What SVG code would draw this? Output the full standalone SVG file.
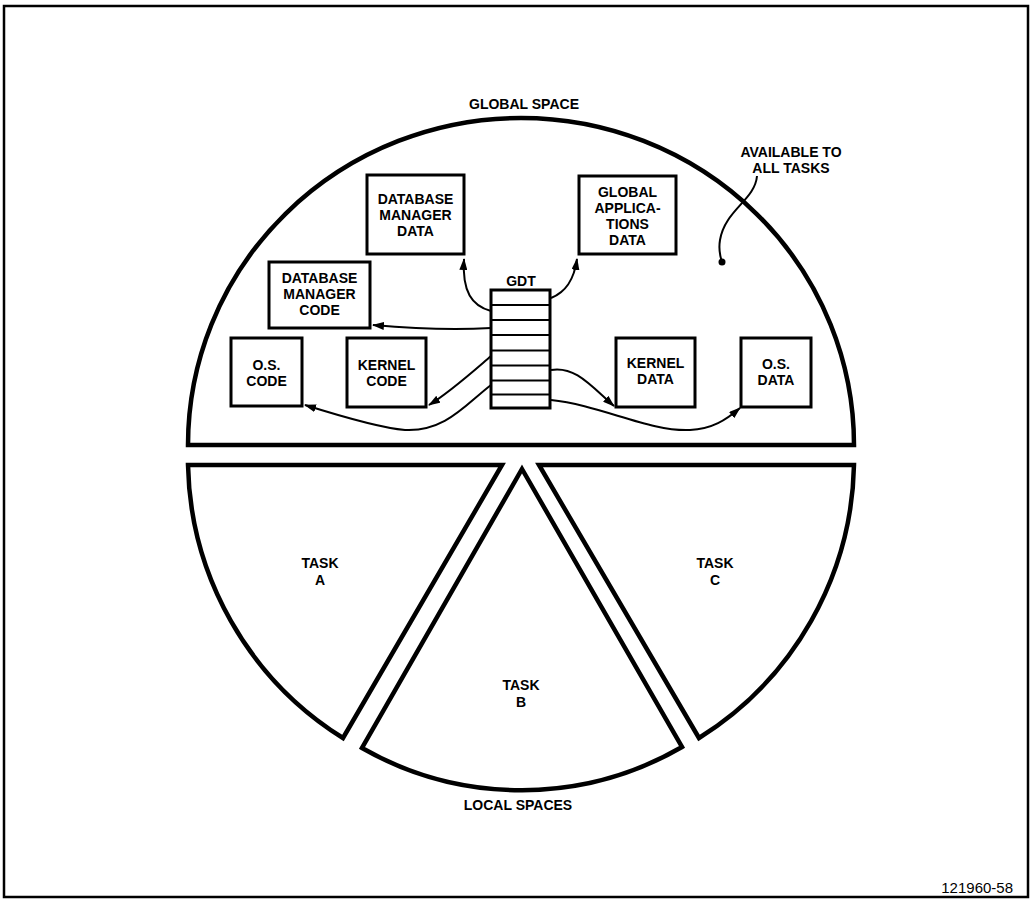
<svg xmlns="http://www.w3.org/2000/svg" width="1033" height="901" viewBox="0 0 1033 901">
<defs>
<style>
.t{font-family:"Liberation Sans",Arial,sans-serif;font-weight:bold;font-size:14px;fill:#000;text-anchor:middle}
.n{font-family:"Liberation Sans",Arial,sans-serif;font-size:15px;fill:#000;text-anchor:end}
.big{fill:#fff;stroke:#000;stroke-width:4.5;stroke-linejoin:miter}
.box{fill:#fff;stroke:#000;stroke-width:3}
.row{stroke:#000;stroke-width:2}
.c{fill:none;stroke:#000;stroke-width:2}
</style>
<marker id="ah" viewBox="0 0 12 8" refX="11" refY="4" markerWidth="12" markerHeight="8" markerUnits="userSpaceOnUse" orient="auto">
<path d="M0,0 L12,4 L0,8 Z" fill="#000"/>
</marker>
</defs>
<rect x="0" y="0" width="1033" height="901" fill="#fff"/>
<rect x="4" y="6" width="1024" height="891" fill="none" stroke="#000" stroke-width="2.5"/>

<g id="global-space">
<path class="big" d="M188,445 A333,327 0 0 1 854,445 Z"/>
<text class="t" x="524" y="109">GLOBAL SPACE</text>
</g>

<g id="task-a">
<path class="big" d="M188,465 L502,465 L343,738 A330,330 0 0 1 188,465 Z"/>
<text class="t" x="320" y="568">TASK</text>
<text class="t" x="320" y="585">A</text>
</g>
<g id="task-b">
<path class="big" d="M522,469 L682,747 A321,321 0 0 1 362,748 Z"/>
<text class="t" x="521" y="690">TASK</text>
<text class="t" x="521" y="707">B</text>
</g>
<g id="task-c">
<path class="big" d="M539,465 L854,465 A330,330 0 0 1 699,738 Z"/>
<text class="t" x="715" y="568">TASK</text>
<text class="t" x="715" y="585">C</text>
</g>
<text class="t" x="518" y="810">LOCAL SPACES</text>

<g id="available-note">
<text class="t" x="791" y="157">AVAILABLE TO</text>
<text class="t" x="791" y="173">ALL TASKS</text>
</g>

<g id="db-manager-data">
<rect class="box" x="367" y="175" width="97" height="79"/>
<text class="t" x="415.5" y="204">DATABASE</text>
<text class="t" x="415.5" y="220">MANAGER</text>
<text class="t" x="415.5" y="236">DATA</text>
</g>
<g id="global-app-data">
<rect class="box" x="579" y="176" width="97" height="78"/>
<text class="t" x="627.5" y="197">GLOBAL</text>
<text class="t" x="627.5" y="213">APPLICA-</text>
<text class="t" x="627.5" y="229">TIONS</text>
<text class="t" x="627.5" y="245">DATA</text>
</g>
<g id="db-manager-code">
<rect class="box" x="269" y="262" width="101" height="66"/>
<text class="t" x="319.5" y="283">DATABASE</text>
<text class="t" x="319.5" y="299">MANAGER</text>
<text class="t" x="319.5" y="315">CODE</text>
</g>
<g id="os-code">
<rect class="box" x="231" y="338" width="71" height="68"/>
<text class="t" x="266.5" y="370">O.S.</text>
<text class="t" x="266.5" y="386">CODE</text>
</g>
<g id="kernel-code">
<rect class="box" x="347" y="338" width="79" height="69"/>
<text class="t" x="386.5" y="370">KERNEL</text>
<text class="t" x="386.5" y="386">CODE</text>
</g>
<g id="kernel-data">
<rect class="box" x="616" y="338" width="79" height="69"/>
<text class="t" x="655.5" y="368">KERNEL</text>
<text class="t" x="655.5" y="384">DATA</text>
</g>
<g id="os-data">
<rect class="box" x="741" y="338" width="70" height="69"/>
<text class="t" x="776" y="369">O.S.</text>
<text class="t" x="776" y="385">DATA</text>
</g>

<g id="gdt">
<text class="t" x="521" y="286">GDT</text>
<rect class="box" x="491" y="290" width="59" height="118"/>
<line class="row" x1="491" y1="305" x2="550" y2="305"/>
<line class="row" x1="491" y1="320" x2="550" y2="320"/>
<line class="row" x1="491" y1="335" x2="550" y2="335"/>
<line class="row" x1="491" y1="350.5" x2="550" y2="350.5"/>
<line class="row" x1="491" y1="365.5" x2="550" y2="365.5"/>
<line class="row" x1="491" y1="380.5" x2="550" y2="380.5"/>
<line class="row" x1="491" y1="394.5" x2="550" y2="394.5"/>
</g>

<g id="connectors">
<path class="c" marker-end="url(#ah)" d="M491,311 C472,306 462,292 464,259"/>
<path class="c" marker-end="url(#ah)" d="M551,298 C566,292 574,280 577,259"/>
<path class="c" marker-end="url(#ah)" d="M491,328 Q440,331 373,325"/>
<path class="c" marker-end="url(#ah)" d="M491,356 C470,374 450,392 429,405"/>
<path class="c" marker-end="url(#ah)" d="M491,385 C465,405 445,432 405,430 C380,428 340,416 305,405"/>
<path class="c" marker-end="url(#ah)" d="M551,370 C575,366 590,385 614,406"/>
<path class="c" marker-end="url(#ah)" d="M551,400 C600,405 650,432 690,430 C712,429 726,420 740,408"/>
<path class="c" d="M757,176 C755,200 725,210 720,240 C718,252 721,258 722,262"/>
<circle cx="722" cy="262" r="3.5" fill="#000"/>
</g>

<text class="n" x="1013" y="893">121960-58</text>
</svg>
